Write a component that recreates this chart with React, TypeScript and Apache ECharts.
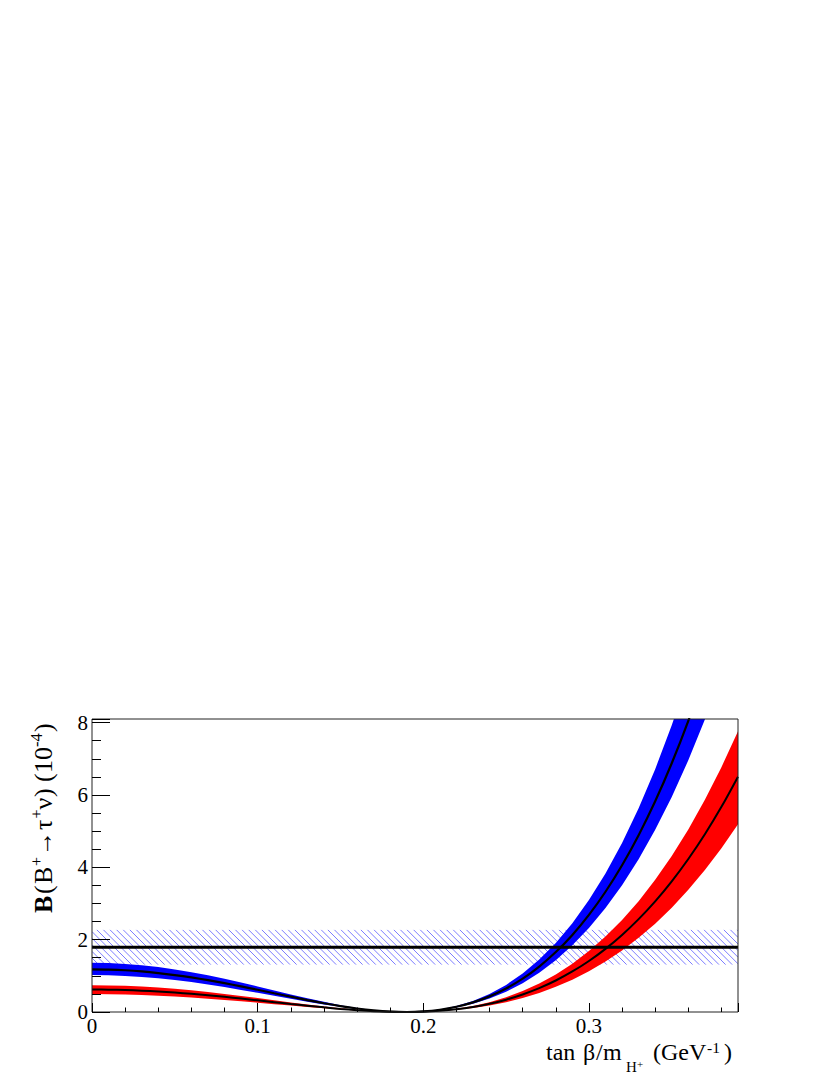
import React, { useEffect, useRef } from 'react';
import * as echarts from 'echarts';

// x positions (tan beta / m_H+ in GeV^-1)
const xValues = [
  0, 0.01, 0.02, 0.03, 0.04, 0.05, 0.06, 0.07, 0.08, 0.09,
  0.1, 0.11, 0.12, 0.13, 0.14, 0.15, 0.16, 0.17, 0.18, 0.19,
  0.2, 0.21, 0.22, 0.23, 0.24, 0.25, 0.26, 0.27, 0.28, 0.29,
  0.3, 0.31, 0.32, 0.33, 0.34, 0.35, 0.36, 0.37, 0.38, 0.39,
];

// Blue band (central value, lower and upper edge), units of 1e-4
const blueCentral = [
  1.18, 1.173, 1.154, 1.122, 1.077, 1.021, 0.955, 0.88, 0.797, 0.707,
  0.614, 0.518, 0.423, 0.33, 0.243, 0.164, 0.097, 0.045, 0.011, 0.0,
  0.016, 0.062, 0.144, 0.265, 0.432, 0.649, 0.922, 1.256, 1.657, 2.131,
  2.684, 3.324, 4.056, 4.887, 5.825, 6.877, 8.05, 9.353, 10.794, 12.38,
];
const blueLow = [
  1.02, 1.014, 0.997, 0.969, 0.931, 0.883, 0.826, 0.76, 0.689, 0.611,
  0.531, 0.448, 0.366, 0.285, 0.21, 0.142, 0.084, 0.039, 0.01, 0.0,
  0.013, 0.054, 0.124, 0.229, 0.374, 0.561, 0.797, 1.086, 1.432, 1.842,
  2.32, 2.873, 3.506, 4.224, 5.035, 5.944, 6.959, 8.085, 9.33, 10.701,
];
const blueHigh = [
  1.36, 1.352, 1.33, 1.293, 1.241, 1.177, 1.101, 1.014, 0.918, 0.815,
  0.708, 0.597, 0.487, 0.381, 0.28, 0.189, 0.112, 0.051, 0.013, 0.0,
  0.018, 0.071, 0.166, 0.306, 0.498, 0.749, 1.063, 1.448, 1.91, 2.456,
  3.094, 3.831, 4.674, 5.632, 6.713, 7.926, 9.278, 10.78, 12.44, 14.268,
];

// Red band
const redCentral = [
  0.62, 0.617, 0.606, 0.589, 0.566, 0.537, 0.502, 0.462, 0.419, 0.372,
  0.323, 0.272, 0.222, 0.174, 0.128, 0.086, 0.051, 0.023, 0.006, 0.0,
  0.008, 0.033, 0.075, 0.139, 0.227, 0.341, 0.485, 0.66, 0.871, 1.12,
  1.41, 1.746, 2.131, 2.568, 3.06, 3.613, 4.23, 4.914, 5.671, 6.505,
];
const redLow = [
  0.495, 0.492, 0.484, 0.47, 0.452, 0.428, 0.401, 0.369, 0.334, 0.297,
  0.258, 0.217, 0.177, 0.139, 0.102, 0.069, 0.041, 0.019, 0.005, 0.0,
  0.007, 0.026, 0.06, 0.111, 0.181, 0.272, 0.387, 0.527, 0.695, 0.894,
  1.126, 1.394, 1.701, 2.05, 2.443, 2.885, 3.377, 3.924, 4.528, 5.193,
];
const redHigh = [
  0.74, 0.736, 0.724, 0.703, 0.675, 0.64, 0.599, 0.552, 0.5, 0.444,
  0.385, 0.325, 0.265, 0.207, 0.152, 0.103, 0.061, 0.028, 0.007, 0.0,
  0.01, 0.039, 0.09, 0.166, 0.271, 0.407, 0.578, 0.788, 1.039, 1.336,
  1.683, 2.084, 2.543, 3.065, 3.653, 4.313, 5.048, 5.866, 6.769, 7.764,
];

// Measured value and its uncertainty band
const measuredValue = 1.79;
const measuredLow = 1.31;
const measuredHigh = 2.27;

// Axis ranges
const xRange = [0, 0.39];
const yRange = [0, 8.1];

// Axis title pieces: [text, font size, baseline shift, bold, preferred offset, stretched width]
type Part = [string, number, number, boolean, number, number];
const xTitleParts: Part[] = [
  ['tan', 24, 0, false, 0, 0],
  ['β', 24, 0, false, 37, 0],
  ['/', 24, 0, false, 50, 0],
  ['m', 24, 0, false, 57, 0],
  ['H', 15, 12, false, 80, 0],
  ['+', 11, 8, false, 91, 0],
  ['(GeV', 24, 0, false, 107, 0],
  ['-1', 15.5, -7.5, false, 161, 0],
  [')', 24, 0, false, 178, 0],
];
const yTitleParts: Part[] = [
  ['B', 26, 0, true, 0, 0],
  ['(', 26, 0, false, 19, 0],
  ['B', 26, 0, false, 29, 0],
  ['+', 16, -10, false, 47, 0],
  ['→', 26, 0, false, 57, 25],
  ['τ', 26, 0, false, 83, 0],
  ['+', 16, -10, false, 94.5, 0],
  ['ν', 26, 0, false, 103, 0],
  [')', 26, 0, false, 116, 0],
  ['(', 26, 0, false, 131, 0],
  ['10', 26, 0, false, 140, 0],
  ['-4', 16.5, -10, false, 166, 0],
  [')', 26, 0, false, 181, 0],
];

const FONT = 'Liberation Serif, Times New Roman, serif';

let measureCtx: CanvasRenderingContext2D | null = null;
function textWidth(t: string, size: number, bold: boolean) {
  if (!measureCtx) measureCtx = document.createElement('canvas').getContext('2d');
  measureCtx!.font = `${bold ? 'bold ' : ''}${size}px ${FONT}`;
  return measureCtx!.measureText(t).width;
}

function titlePieces(parts: Part[]) {
  let cursor = 0;
  return parts.map(([t, s, dy, b, off, stretch]) => {
    const w = textWidth(t, s, b);
    const x = Math.max(off, cursor);
    const sx = stretch > 0 && w > 0 ? stretch / w : 1;
    cursor = x + w * sx;
    return {
      type: 'text',
      x,
      y: dy - 0.3375 * s,
      scaleX: sx,
      silent: true,
      style: {
        text: t, fontSize: s, fontFamily: FONT, fontWeight: b ? 'bold' : 'normal',
        lineHeight: Math.round(s * 0.75),
        fill: '#000', align: 'left', verticalAlign: 'middle',
        textAlign: 'left', textVerticalAlign: 'middle',
      },
    };
  });
}

export default function App() {
  const ref = useRef<HTMLDivElement>(null);

  useEffect(() => {
    document.body.style.margin = '0';
    const chart = echarts.init(ref.current!, null, { renderer: 'svg' });

    const bandRender = (lo: number[], hi: number[], color: string) => (_p: any, api: any) => {
      const pts: number[][] = [];
      for (let i = 0; i < xValues.length; i++) pts.push(api.coord([xValues[i], lo[i]]));
      for (let i = xValues.length - 1; i >= 0; i--) pts.push(api.coord([xValues[i], hi[i]]));
      return { type: 'polygon', shape: { points: pts }, style: { fill: color }, silent: true };
    };

    const hatchRender = (_p: any, api: any) => {
      const tl = api.coord([xRange[0], measuredHigh]);
      const br = api.coord([xRange[1], measuredLow]);
      const left = tl[0], top = tl[1], right = br[0], bottom = br[1];
      const step = 6.6;
      const children: any[] = [];
      for (let c = left - (bottom - top); c <= right; c += step) {
        const ys = Math.max(top, top + (left - c));
        const ye = Math.min(bottom, top + (right - c));
        if (ye <= ys) continue;
        children.push({
          type: 'line',
          shape: { x1: ys - top + c, y1: ys, x2: ye - top + c, y2: ye },
          style: { stroke: '#5c5cff', lineWidth: 0.8 },
          silent: true,
        });
      }
      return { type: 'group', children };
    };

    const pairs = (ys: number[]) => xValues.map((x, i) => [x, ys[i]]);

    const labelStyle = { fontFamily: FONT, fontSize: 21, color: '#000', lineHeight: 14 };

    chart.setOption({
      animation: false,
      backgroundColor: '#fff',
      grid: {
        left: 92, right: 92, top: 719, bottom: 63,
        show: true, borderColor: '#222', borderWidth: 1, backgroundColor: 'transparent', z: 10,
      },
      xAxis: [
        {
          type: 'value', min: xRange[0], max: xRange[1], interval: 0.1, position: 'bottom', z: 10,
          axisLine: { show: false },
          axisTick: { inside: true, length: 9, lineStyle: { color: '#000', width: 1 } },
          splitLine: { show: false },
          axisLabel: {
            ...labelStyle, margin: 7,
            formatter: (v: number) => {
              const r = Math.round(v * 10);
              if (Math.abs(v * 10 - r) > 1e-6) return '';
              return r === 0 ? '0' : (r / 10).toFixed(1);
            },
          },
        },
        {
          type: 'value', min: xRange[0], max: xRange[1], interval: 0.02, position: 'bottom', z: 10,
          axisLine: { show: false },
          axisTick: { inside: true, length: 4.5, lineStyle: { color: '#000', width: 1 } },
          splitLine: { show: false },
          axisLabel: { show: false },
        },
      ],
      yAxis: [
        {
          type: 'value', min: yRange[0], max: yRange[1], interval: 2, position: 'left', z: 10,
          axisLine: { show: false },
          axisTick: { inside: true, length: 18, lineStyle: { color: '#000', width: 1 } },
          splitLine: { show: false },
          axisLabel: {
            ...labelStyle, margin: 4,
            formatter: (v: number) => {
              const r = Math.round(v);
              if (Math.abs(v - r) > 1e-6 || r % 2 !== 0) return '';
              return String(r);
            },
          },
        },
        {
          type: 'value', min: yRange[0], max: yRange[1], interval: 0.5, position: 'left', z: 10,
          axisLine: { show: false },
          axisTick: { inside: true, length: 9, lineStyle: { color: '#000', width: 1 } },
          splitLine: { show: false },
          axisLabel: { show: false },
        },
      ],
      series: [
        {
          type: 'custom', name: 'measured band', xAxisIndex: 0, yAxisIndex: 0, clip: true,
          data: [[xRange[0], measuredValue]], renderItem: hatchRender, silent: true, z: 2,
        },
        {
          type: 'custom', name: 'red band', xAxisIndex: 0, yAxisIndex: 0, clip: true,
          data: [[0, 0]], renderItem: bandRender(redLow, redHigh, '#ff0000'), silent: true, z: 3,
        },
        {
          type: 'custom', name: 'blue band', xAxisIndex: 0, yAxisIndex: 0, clip: true,
          data: [[0, 0]], renderItem: bandRender(blueLow, blueHigh, '#0000ff'), silent: true, z: 3,
        },
        {
          type: 'line', name: 'measured', xAxisIndex: 0, yAxisIndex: 0, z: 4,
          data: [[xRange[0], measuredValue], [xRange[1], measuredValue]],
          showSymbol: false, silent: true,
          lineStyle: { color: '#000', width: 3 },
        },
        {
          type: 'line', name: 'red central', xAxisIndex: 0, yAxisIndex: 0, z: 5, clip: true,
          data: pairs(redCentral), showSymbol: false, smooth: 0.3, silent: true,
          lineStyle: { color: '#000', width: 2 },
        },
        {
          type: 'line', name: 'blue central', xAxisIndex: 0, yAxisIndex: 0, z: 5, clip: true,
          data: pairs(blueCentral), showSymbol: false, smooth: 0.3, silent: true,
          lineStyle: { color: '#000', width: 2.2 },
        },
      ],
      graphic: [
        {
          type: 'group', x: 546, y: 1060, silent: true,
          children: titlePieces(xTitleParts),
        },
        {
          type: 'group', x: 52, y: 913, rotation: Math.PI / 2, silent: true,
          children: titlePieces(yTitleParts),
        },
      ],
    });

    return () => chart.dispose();
  }, []);

  return <div ref={ref} style={{ width: 830, height: 1075 }} />;
}
